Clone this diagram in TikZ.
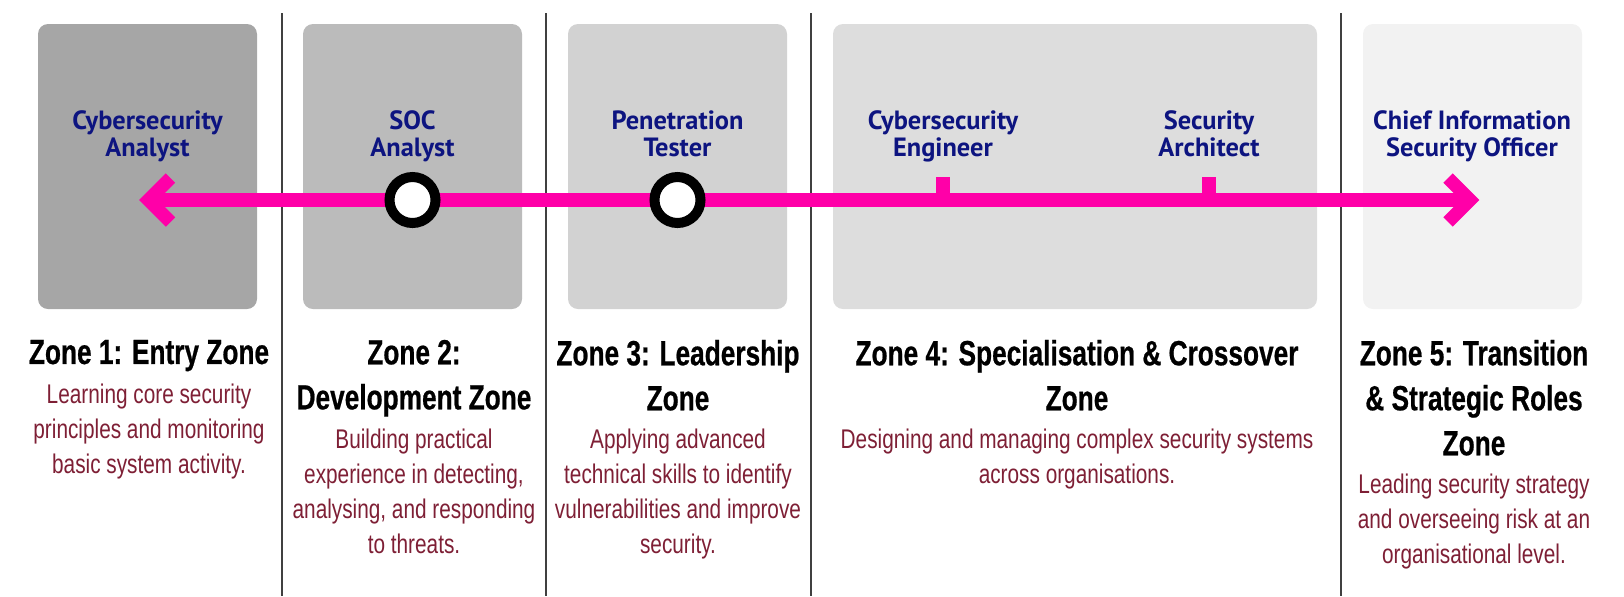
\documentclass[tikz,border=0pt]{standalone}
\usepackage{fontspec}
\setmainfont{Liberation Sans}
\newfontfamily\rolefont{PT Sans}
\newfontfamily\zonefont[FakeStretch=0.75,FakeBold=0.6]{Liberation Sans}
\newfontfamily\notefont[FakeStretch=0.77]{Liberation Sans}
\definecolor{boxA}{HTML}{A6A6A6}
\definecolor{boxB}{HTML}{BBBBBB}
\definecolor{boxC}{HTML}{D2D2D2}
\definecolor{boxD}{HTML}{DDDDDD}
\definecolor{boxE}{HTML}{F2F2F2}
\definecolor{pathcol}{HTML}{FF00A8}
\definecolor{rolecol}{HTML}{0D1480}
\definecolor{notecol}{HTML}{7E1F35}
\definecolor{divcol}{HTML}{404040}
\begin{document}
\begin{tikzpicture}[x=0.5pt,y=-0.5pt,
	role/.style={font=\rolefont\bfseries\fontsize{13.2}{13.5}\selectfont,text=rolecol,align=center,anchor=north,inner sep=0pt},
	zone/.style={font=\zonefont\bfseries\fontsize{17.5}{22.5}\selectfont,align=center,anchor=north,inner sep=0pt},
	note/.style={font=\notefont\fontsize{13.5}{17.5}\selectfont,text=notecol,align=center,anchor=north,inner sep=0pt},
	stop/.style={circle,draw=black,fill=white,line width=5pt,minimum size=23pt,inner sep=0pt},
	track/.style={line width=6.65pt,draw=pathcol,line join=miter},
	divider/.style={line width=1pt,draw=divcol}]
			\useasboundingbox (0,0) rectangle (1624,596);
			% zone backgrounds and dividers
			\foreach \l/\r/\c in {38/257/boxA,303/522/boxB,568/787/boxC,833/1317/boxD,1363/1582/boxE}
				\fill[\c,rounded corners=5pt] (\l,24) rectangle (\r,309);
			\foreach \x in {282,546,811,1341}
				\draw[divider] (\x,13) -- (\x,596);
			% career path
			\coordinate (start) at (148.5,200);
			\coordinate (end) at (1470,200);
			\coordinate (eng) at (943,200);
			\coordinate (arch) at (1209,200);
			\draw[track] (start) -- (end);
			\draw[track] ([shift={(22,-22)}]start) -- (start) -- ([shift={(22,22)}]start);
			\draw[track] ([shift={(-22,-22)}]end) -- (end) -- ([shift={(-22,22)}]end);
			\draw[track] (eng) -- ++(0,-23);
			\draw[track] (arch) -- ++(0,-23);
			\node[stop] (soc) at (412.5,200) {};
			\node[stop] (pen) at (677.5,200) {};
			% roles
			\node[role] (analyst) at (147.5,110) {Cybersecurity\\Analyst};
			\node[role] (socrole) at (412.5,110) {SOC\\Analyst};
			\node[role] (tester) at (677.5,110) {Penetration\\Tester};
			\node[role] (engineer) at (943,110) {Cybersecurity\\Engineer};
			\node[role] (architect) at (1209,110) {Security\\Architect};
			\node[role] (ciso) at (1472,110) {Chief Information\\Security Officer};
			% zones
			\node[zone] (zone1) at (149,339.5) {Zone 1: Entry Zone};
			\node[note] (note1) at (149,383.3) {Learning core security\\principles and monitoring\\basic system activity.};
			\node[zone] (zone2) at (414,339.5) {Zone 2:\\Development Zone};
			\node[note] (note2) at (414,428.3) {Building practical\\experience in detecting,\\analysing, and responding\\to threats.};
			\node[zone] (zone3) at (678,339.5) {Zone 3: Leadership\\Zone};
			\node[note] (note3) at (678,428.3) {Applying advanced\\technical skills to identify\\vulnerabilities and improve\\security.};
			\node[zone] (zone4) at (1077,339.5) {Zone 4: Specialisation \& Crossover\\Zone};
			\node[note] (note4) at (1077,428.3) {Designing and managing complex security systems\\across organisations.};
			\node[zone] (zone5) at (1474,339.5) {Zone 5: Transition\\\& Strategic Roles\\Zone};
			\node[note] (note5) at (1474,473.3) {Leading security strategy\\and overseeing risk at an\\organisational level.};
		\end{tikzpicture}
\end{document}
